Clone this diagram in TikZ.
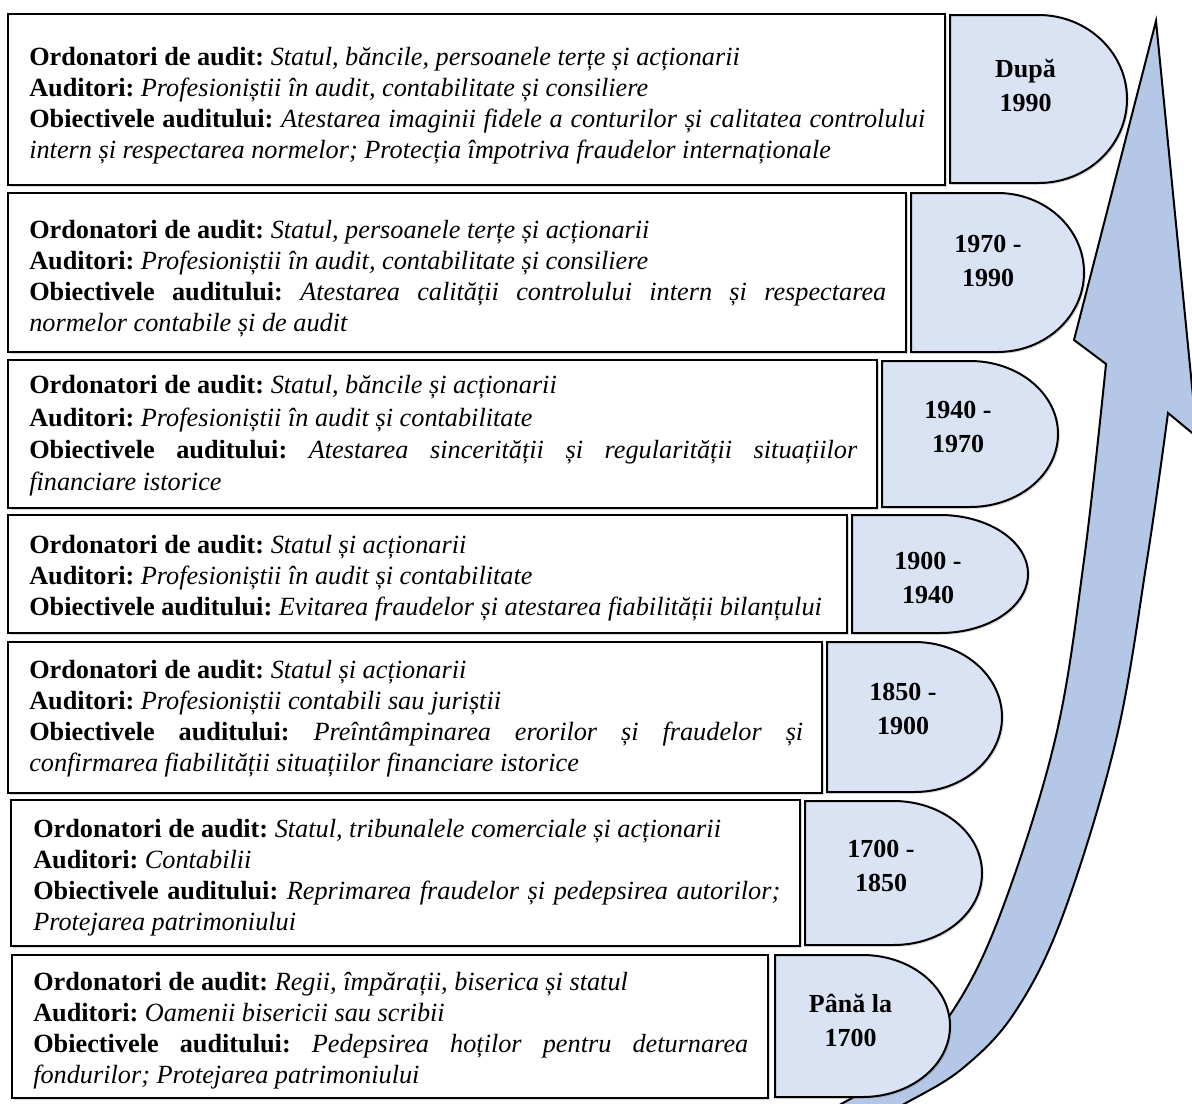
\documentclass[tikz,border=0pt]{standalone}
\usepackage{fontspec}
\setmainfont{Liberation Serif}
\usetikzlibrary{shadows}

\definecolor{periodfill}{RGB}{218,227,243}
\definecolor{arrowfill}{RGB}{180,199,231}

\newcommand\bodyfont{\fontsize{19.7}{23.25}\selectfont\frenchspacing
  \tolerance=10000\relax\hyphenpenalty=10000\relax}

\tikzset{
  framebox/.style={draw=black, line width=1.6pt, fill=white,
    drop shadow={shadow xshift=1.3pt, shadow yshift=-1.3pt, opacity=0.3}},
  periodbox/.style={draw=black, line width=1.5pt, fill=periodfill,
    drop shadow={shadow xshift=1.3pt, shadow yshift=-1.3pt, opacity=0.3}},
  bodytext/.style={anchor=north west, inner sep=0pt, yshift=15.76pt, font=\bodyfont},
  yearlabel/.style={anchor=north, inner sep=0pt, yshift=15.6pt,
    align=center, font=\bfseries\fontsize{19.5}{25.5}\selectfont},
  bigarrow/.style={draw=black, line width=1.5pt, fill=arrowfill, line join=miter},
}

% half-rectangle, half-ellipse period tab: left, top, right, bottom
\newcommand\periodtab[4]{%
  \pgfmathsetmacro\tabrx{(#3-#1)/2}%
  \pgfmathsetmacro\tabry{(#4-#2)/2}%
  \pgfmathsetmacro\tabmid{#1+\tabrx}%
  \draw[periodbox] (#1,#2) -- (\tabmid,#2)
    arc[start angle=-90, end angle=90, x radius=\tabrx, y radius=\tabry]
    -- (#1,#4) -- cycle;}

% fixed-height first line, so that the node top sits a known distance above the baseline
\newcommand\firststrut{\leavevmode\vbox to 0.8em{}}
% justified text block of a given width, hanging from its first baseline
\newcommand\rowblock[2]{\begin{minipage}[t]{#1}#2\end{minipage}}
\newcommand\roword{\firststrut\textbf{Ordonatori de audit:} }
\newcommand\rowaud{\textbf{Auditori:} }
\newcommand\rowobj{\textbf{Obiectivele auditului:} }

\begin{document}
\begin{tikzpicture}[x=0.75pt, y=-0.75pt]
\useasboundingbox (0,0) rectangle (1192,1103);
\fill[white] (0,0) rectangle (1192,1103);

% curved timeline arrow
\begin{scope}
  \clip (0,0) rectangle (1192,1103);
  \filldraw[bigarrow]
    plot[smooth, tension=0.6] coordinates {(790,1130) (843,1103) (900,1068) (952,1012)
      (1000,915) (1055,740) (1084,560) (1106,364)}
    -- (1074,340) -- (1156,21) -- (1197,437) -- (1168,413)
    -- plot[smooth, tension=0.6] coordinates {(1168,413) (1147,560) (1116,740)
      (1063,915) (1015,1012) (963,1068) (906,1103) (853,1130)}
    -- cycle;
\end{scope}

% content frames
\draw[framebox] (8,14) rectangle (945,185);
\draw[framebox] (8,193) rectangle (906,352);
\draw[framebox] (8,360) rectangle (877,508);
\draw[framebox] (8,515) rectangle (847,633);
\draw[framebox] (8,642) rectangle (822,793);
\draw[framebox] (11,800) rectangle (800,946);
\draw[framebox] (12,955) rectangle (768,1098);

% period tabs
\periodtab{950}{15}{1127}{183}
\periodtab{911}{193}{1084}{352}
\periodtab{882}{361}{1058}{507}
\periodtab{852}{515}{1028}{633}
\periodtab{827}{642}{1002}{792}
\periodtab{805}{801}{982}{945}
\periodtab{775}{955}{950}{1097}

% period labels
\node[yearlabel] (y1) at (1025.5,77) {\firststrut După\\1990};
\node[yearlabel] (y2) at (988,252) {\firststrut 1970 -\\1990};
\node[yearlabel] (y3) at (958,418) {\firststrut 1940 -\\1970};
\node[yearlabel] (y4) at (928,569) {\firststrut 1900 -\\1940};
\node[yearlabel] (y5) at (903,700) {\firststrut 1850 -\\1900};
\node[yearlabel] (y6) at (881,857) {\firststrut 1700 -\\1850};
\node[yearlabel] (y7) at (850.5,1012) {\firststrut Până la\\1700};

% frame texts
\node[bodytext] (t1) at (29,65.5) {\rowblock{672pt}{%
  \roword\textit{Statul, băncile, persoanele terțe și acționarii}\par
  \rowaud\textit{Profesioniștii în audit, contabilitate și consiliere}\par
  \rowobj\textit{Atestarea imaginii fidele a conturilor și calitatea controlului\linebreak
  intern și respectarea normelor; Protecția împotriva fraudelor internaționale}}};

\node[bodytext] (t2) at (29,238.5) {\rowblock{642.75pt}{%
  \roword\textit{Statul, persoanele terțe și acționarii}\par
  \rowaud\textit{Profesioniștii în audit, contabilitate și consiliere}\par
  \rowobj\textit{Atestarea calității controlului intern și respectarea\linebreak
  normelor contabile și de audit}}};

\node[bodytext, font=\bodyfont\fontsize{19.7}{24.3}\selectfont] (t3) at (29,393.5) {\rowblock{621pt}{%
  \roword\textit{Statul, băncile și acționarii}\par
  \rowaud\textit{Profesioniștii în audit și contabilitate}\par
  \rowobj\textit{Atestarea sincerității și regularității situațiilor\linebreak
  financiare istorice}}};

\node[bodytext] (t4) at (29,553.5) {\rowblock{622.5pt}{%
  \roword\textit{Statul și acționarii}\par
  \rowaud\textit{Profesioniștii în audit și contabilitate}\par
  \rowobj\textit{Evitarea fraudelor și atestarea fiabilității bilanțului}}};

\node[bodytext] (t5) at (29,678.5) {\rowblock{580.5pt}{%
  \roword\textit{Statul și acționarii}\par
  \rowaud\textit{Profesioniștii contabili sau juriștii}\par
  \rowobj\textit{Preîntâmpinarea erorilor și fraudelor și\linebreak
  confirmarea fiabilității situațiilor financiare istorice}}};

\node[bodytext] (t6) at (33,837.5) {\rowblock{560.25pt}{%
  \roword\textit{Statul, tribunalele comerciale și acționarii}\par
  \rowaud\textit{Contabilii}\par
  \rowobj\textit{Reprimarea fraudelor și pedepsirea autorilor;\linebreak
  Protejarea patrimoniului}}};

\node[bodytext] (t7) at (33,990.5) {\rowblock{536.25pt}{%
  \roword\textit{Regii, împărații, biserica și statul}\par
  \rowaud\textit{Oamenii bisericii sau scribii}\par
  \rowobj\textit{Pedepsirea hoților pentru deturnarea\linebreak
  fondurilor; Protejarea patrimoniului}}};

\end{tikzpicture}
\end{document}
